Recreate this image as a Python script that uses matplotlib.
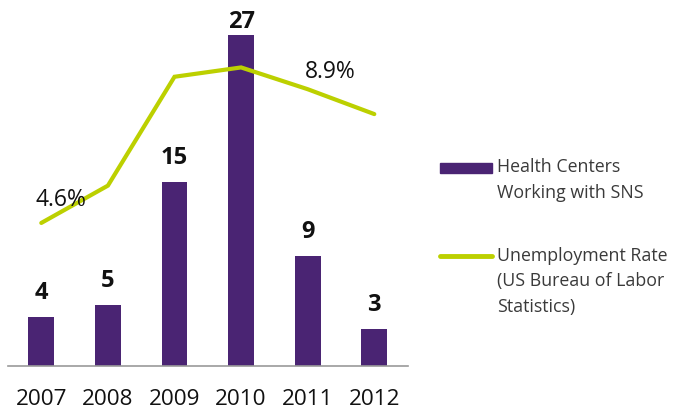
import matplotlib
matplotlib.use("Agg")
import matplotlib.pyplot as plt
from matplotlib.patches import Rectangle
from matplotlib.lines import Line2D

years = ["2007", "2008", "2009", "2010", "2011", "2012"]
health_centers = [4, 5, 15, 27, 9, 3]
unemployment = [4.6, 5.8, 9.3, 9.6, 8.9, 8.1]
pct_labels = {0: "4.6%", 4: "8.9%"}

BAR_COLOR = "#4A2473"
LINE_COLOR = "#BCD000"
TEXT_COLOR = "#111111"
LEG_TEXT = "#3a3a3a"

plt.rcParams['font.family'] = ['Open Sans', 'DejaVu Sans']

W, H = 676, 415
fig = plt.figure(figsize=(W / 100, H / 100), dpi=100)
left, right = 8 / W, 407.6 / W
bottom, top = (H - 366) / H, 1.0
ax = fig.add_axes([left, bottom, right - left, top - bottom])
ax2 = ax.twinx()

x = list(range(len(years)))
ax.bar(x, health_centers, width=0.39, color=BAR_COLOR, zorder=2)
ax.set_xlim(-0.5, len(years) - 0.5)
ax.set_ylim(0, 366 / 12.26)
ax2.set_ylim(0, 366 / 31.1)
ax2.plot(x, unemployment, color=LINE_COLOR, lw=3.0, solid_capstyle='round',
         solid_joinstyle='miter', zorder=3)

for a in (ax, ax2):
    for s in a.spines.values():
        s.set_visible(False)
    a.set_yticks([])
ax.spines['bottom'].set_visible(True)
ax.spines['bottom'].set_color("#9a9a9a")
ax.spines['bottom'].set_linewidth(1.2)
ax.set_xticks(x)
ax.set_xticklabels(years, fontsize=16.2, color=TEXT_COLOR)
ax.tick_params(axis='x', length=0, pad=16.5)

PX = 72 / 100  # points per pixel
ax_h_px = 366
ymax = ax.get_ylim()[1]
for xi, v in zip(x, health_centers):
    top_px = ax_h_px * (1 - v / ymax)   # distance of bar top from axes top
    center_px = max(top_px - 24, 22)
    off = (top_px - center_px) * PX
    ax.annotate(str(v), (xi, v), xytext=(0, off), textcoords='offset points',
                ha='center', va='center', fontsize=17, fontweight='bold',
                color=TEXT_COLOR, annotation_clip=False)

for i, lab in pct_labels.items():
    dx, dy = (20, 22.5) if i == 0 else (23, 17.5)
    ax2.annotate(lab, (x[i], unemployment[i]), xytext=(dx * PX, dy * PX),
                 textcoords='offset points', ha='center', va='center',
                 fontsize=16.5, color=TEXT_COLOR)

# legend drawn manually
def fx(px):
    return px / W

def fy(py):
    return 1 - py / H

fig.patches.append(Rectangle((fx(440), fy(173)), fx(52), 10 / H,
                             transform=fig.transFigure, color=BAR_COLOR))
fig.lines.append(Line2D([fx(440), fx(492)], [fy(256), fy(256)],
                        transform=fig.transFigure, color=LINE_COLOR, lw=3.5,
                        solid_capstyle='round'))
for txt, py in [("Health Centers", 167), ("Working with SNS", 193),
                ("Unemployment Rate", 256), ("(US Bureau of Labor", 281),
                ("Statistics)", 307)]:
    fig.text(fx(497), fy(py), txt, fontsize=12.8, color=LEG_TEXT,
             ha='left', va='center')

fig.savefig("out.png", dpi=100)
